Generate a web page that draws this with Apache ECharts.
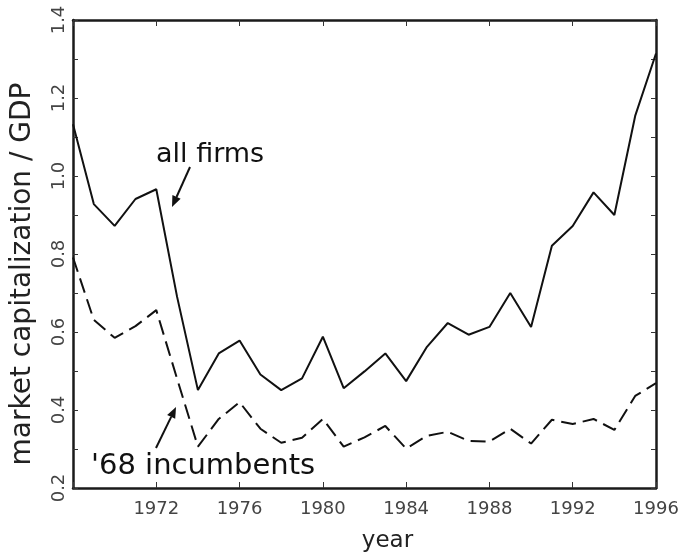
<!DOCTYPE html>
<html>
<head>
<meta charset="utf-8">
<script src="https://cdn.jsdelivr.net/npm/echarts@6/dist/echarts.min.js"></script>
<style>
  html, body { margin: 0; padding: 0; background: #fff; }
  #main { width: 683px; height: 558px; }
</style>
</head>
<body>
<div id="main"></div>
<script>
  // years 1968..1996
  const years = [];
  for (let y = 1968; y <= 1996; y++) years.push(y);

  const allFirms = [1.133, 0.928, 0.872, 0.941, 0.966, 0.69, 0.451, 0.545, 0.578, 0.491,
    0.451, 0.481, 0.588, 0.456, 0.499, 0.545, 0.474, 0.562, 0.623, 0.593,
    0.613, 0.700, 0.613, 0.821, 0.872, 0.958, 0.900, 1.154, 1.314];
  const incumbents = [0.791, 0.631, 0.585, 0.615, 0.656, 0.48, 0.306, 0.377, 0.420, 0.352,
    0.316, 0.329, 0.377, 0.306, 0.330, 0.359, 0.301, 0.334, 0.344, 0.321,
    0.319, 0.352, 0.314, 0.375, 0.364, 0.377, 0.349, 0.436, 0.469];

  const yTicks = ['0.2', '0.4', '0.6', '0.8', '1.0', '1.2', '1.4'];

  const font = 'DejaVu Sans';

  function arrow(x1, y1, x2, y2) {
    const dx = x2 - x1, dy = y2 - y1;
    const len = Math.sqrt(dx * dx + dy * dy);
    const ux = dx / len, uy = dy / len;
    const bx = x2 - 11 * ux, by = y2 - 11 * uy;
    return [
      { type: 'polyline', shape: { points: [[x1, y1], [bx, by]] }, style: { stroke: '#111', lineWidth: 2 } },
      { type: 'polygon', shape: { points: [[x2, y2], [bx + 4.5 * uy, by - 4.5 * ux], [bx - 4.5 * uy, by + 4.5 * ux]] },
        style: { fill: '#111' } }
    ];
  }

  const myChart = echarts.init(document.getElementById('main'));

  const axisLine = { show: true, lineStyle: { color: '#1a1a1a', width: 2.5 } };

  const option = {
    animation: false,
    grid: { left: 73, right: 27, top: 20, bottom: 65 },
    xAxis: [
      {
        type: 'value', min: 1968, max: 1996, interval: 4,
        name: 'year', nameLocation: 'middle', nameGap: 42,
        nameTextStyle: { fontFamily: font, fontSize: 23, color: '#222', padding: [0, 0, 0, 46] },
        axisLine: axisLine,
        axisTick: { inside: true, length: 6, lineStyle: { color: '#333', width: 1 } },
        axisLabel: {
          fontFamily: font, fontSize: 18, color: '#444', margin: 12,
          formatter: v => (v === 1968 ? '' : String(v))
        },
        splitLine: { show: false }
      },
      {
        type: 'value', min: 1968, max: 1996, interval: 4, position: 'top',
        axisLine: axisLine,
        axisTick: { inside: true, length: 6, lineStyle: { color: '#333', width: 1 } },
        axisLabel: { show: false },
        splitLine: { show: false }
      }
    ],
    yAxis: [
      {
        type: 'value', min: 0.2, max: 1.4, interval: 0.2,
        name: 'market capitalization / GDP', nameLocation: 'middle', nameGap: 36,
        nameTextStyle: { fontFamily: font, fontSize: 28, color: '#222', padding: [0, 40, 0, 0] },
        axisLine: axisLine,
        axisTick: { inside: true, length: 5, lineStyle: { color: '#333', width: 1 } },
        minorTick: { show: true, splitNumber: 2, length: 5, lineStyle: { color: '#333', width: 1 } },
        axisLabel: {
          fontFamily: font, fontSize: 18, color: '#444', rotate: 90, margin: 5,
          formatter: v => yTicks[Math.round((v - 0.2) / 0.2)]
        },
        splitLine: { show: false }
      },
      {
        type: 'value', min: 0.2, max: 1.4, interval: 0.2, position: 'right',
        axisLine: axisLine,
        axisTick: { inside: true, length: 5, lineStyle: { color: '#333', width: 1 } },
        minorTick: { show: true, splitNumber: 2, length: 5, lineStyle: { color: '#333', width: 1 } },
        axisLabel: { show: false },
        splitLine: { show: false }
      }
    ],
    series: [
      {
        name: 'all firms', type: 'line', showSymbol: false,
        data: years.map((y, i) => [y, allFirms[i]]),
        lineStyle: { color: '#111', width: 2 }
      },
      {
        name: "'68 incumbents", type: 'line', showSymbol: false,
        data: years.map((y, i) => [y, incumbents[i]]),
        lineStyle: { color: '#111', width: 2, type: [15, 7] }
      }
    ],
    graphic: [
      { type: 'text', left: 156, top: 141,
        style: { text: 'all firms', fontFamily: font, fontSize: 27, fill: '#111' } },
      { type: 'text', left: 91, top: 452,
        style: { text: "'68 incumbents", fontFamily: font, fontSize: 29, fill: '#111' } }
    ].concat(arrow(190, 167, 172, 207), arrow(156, 448, 176, 407))
  };

  myChart.setOption(option);
</script>
</body>
</html>
